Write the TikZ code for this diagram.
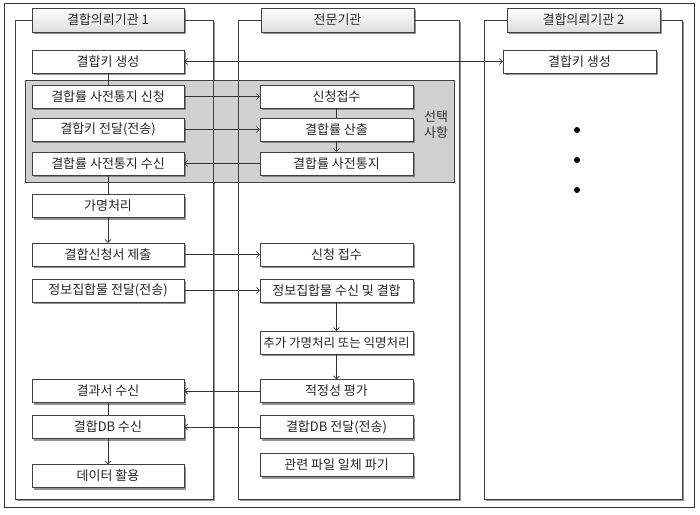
\documentclass[tikz,border=0pt]{standalone}
\usepackage{fontspec}
\setmainfont{Noto Sans CJK KR}
\usetikzlibrary{arrows.meta,shadows}
\begin{document}
\begin{tikzpicture}[x=1pt, y=1pt, yscale=-1, font=\fontsize{13}{16}\selectfont,
                >={Straight Barb[length=3pt,width=6pt]},
                box/.style={draw=black!75, fill=white, minimum width=152pt, minimum height=23pt, inner sep=0pt, text=black!85,
                        drop shadow={shadow xshift=2pt, shadow yshift=-2pt, fill=black!60, opacity=0.7}},
                head/.style={box, minimum height=24pt, top color=white, bottom color=black!13},
                lane/.style={draw=black!75, line width=0.6pt},
                link/.style={draw=black!80, line width=0.6pt}]
                \useasboundingbox (0,0) rectangle (700,514);
                \draw [black!80, line width=0.8pt] (4,3) rectangle (694,507);
                % lanes
                \foreach \xa/\xb in {15/213, 238/459, 484/682}
                        \path [lane, fill=white, drop shadow={shadow xshift=2pt, shadow yshift=-2pt, fill=black!60, opacity=0.7}] (\xa,20) rectangle (\xb,499);
                \draw [draw=black!75, fill=black!18] (25,80) rectangle (454,182);
                \foreach \xa/\xb in {15/213, 238/459, 484/682}
                        \draw [lane] (\xa,20) rectangle (\xb,499);
                \node [head] (t1) at (108, 20) {결합의뢰기관 1};
                \node [head, minimum width=153pt] (t2) at (337.5, 20) {전문기관};
                \node [head, minimum width=153pt] (t3) at (583.5, 20) {결합의뢰기관 2};
                \node [text=black!80, align=center] (opt) at (436, 125) {선택\\사항};
                % left lane
                \node [box] (0) at (108, 61.5) {결합키 생성};
                \node [box] (1) at (108, 96.5) {결합률 사전통지 신청};
                \node [box] (2) at (108, 129.5) {결합키 전달(전송)};
                \node [box] (3) at (108, 163.5) {결합률 사전통지 수신};
                \node [box] (4) at (108, 206) {가명처리};
                \node [box] (5) at (108, 254.5) {결합신청서 제출};
                \node [box] (6) at (108, 290.5) {정보집합물 전달(전송)};
                \node [box] (7) at (108, 391) {결과서 수신};
                \node [box] (8) at (108, 427) {결합DB 수신};
                \node [box] (9) at (108, 476) {데이터 활용};
                % middle lane
                \node [box, minimum width=153pt] (10) at (336.5, 96.5) {신청접수};
                \node [box, minimum width=153pt] (11) at (336.5, 129.5) {결합률 산출};
                \node [box, minimum width=153pt] (12) at (336.5, 163.5) {결합률 사전통지};
                \node [box, minimum width=153pt] (13) at (336.5, 254.5) {신청 접수};
                \node [box, minimum width=153pt] (14) at (336.5, 290.5) {정보집합물 수신 및 결합};
                \node [box, minimum width=153pt, font=\fontsize{12.5}{15}\selectfont] (15) at (336.5, 342.5) {추가 가명처리 또는 익명처리};
                \node [box, minimum width=153pt] (16) at (336.5, 391) {적정성 평가};
                \node [box, minimum width=153pt] (17) at (336.5, 427) {결합DB 전달(전송)};
                \node [box, minimum width=153pt] (18) at (336.5, 465) {관련 파일 일체 파기};
                % right lane
                \node [box, minimum width=153pt] (19) at (579.5, 61.5) {결합키 생성};
                \foreach \y in {130, 160, 190}
                        \fill [black] (577,\y) circle (3pt);
                % connectors
                \draw [link, <->] (0) -- (19);
                \draw [link] (0) -- (1);
                \draw [link, ->] (1) -- (10);
                \draw [link, ->] (2) -- (11);
                \draw [link, ->] (12) -- (3);
                \draw [link] (10) -- (11);
                \draw [link, ->] (11) -- (12);
                \draw [link] (3) -- (4);
                \draw [link, ->] (4) -- (5);
                \draw [link, ->] (5) -- (13);
                \draw [link, ->] (6) -- (14);
                \draw [link, ->] (14) -- (15);
                \draw [link, ->] (15) -- (16);
                \draw [link, ->] (16) -- (7);
                \draw [link, ->] (17) -- (8);
                \draw [link] (7) -- (8);
                \draw [link, ->] (8) -- (9);
\end{tikzpicture}
\end{document}
